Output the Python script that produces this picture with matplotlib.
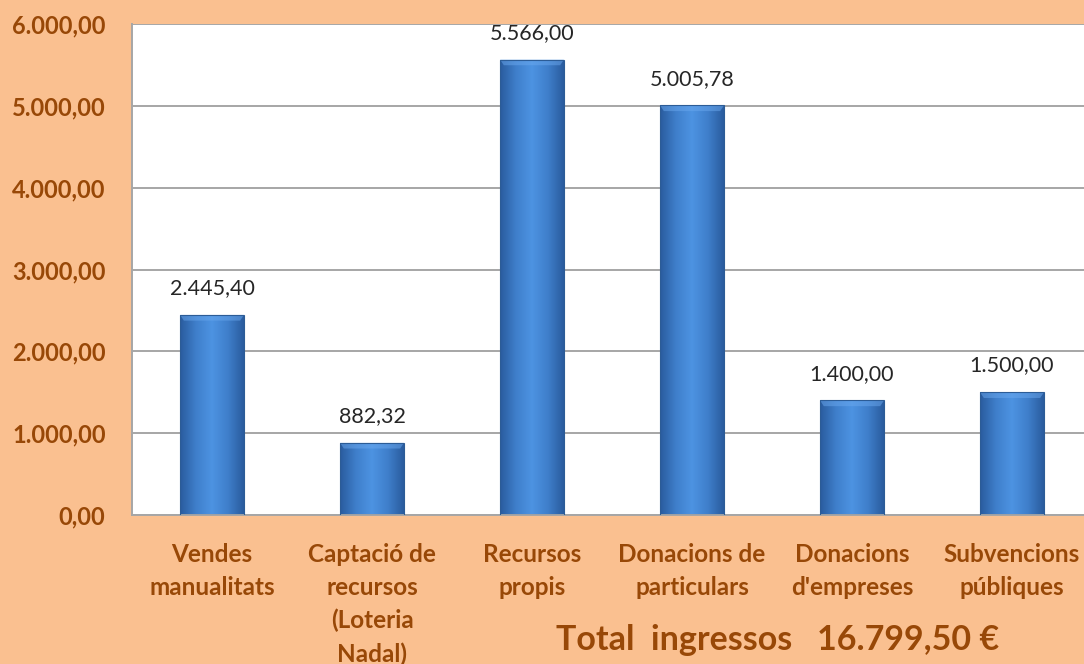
import numpy as np
import matplotlib
matplotlib.use("Agg")
import matplotlib.pyplot as plt
from matplotlib.colors import LinearSegmentedColormap

categories = ["Vendes\nmanualitats", "Captació de\nrecursos\n(Loteria\nNadal)", "Recursos\npropis",
              "Donacions de\nparticulars", "Donacions\nd'empreses", "Subvencions\npúbliques"]
values = [2445.40, 882.32, 5566.00, 5005.78, 1400.00, 1500.00]
value_labels = ["2.445,40", "882,32", "5.566,00", "5.005,78", "1.400,00", "1.500,00"]
yticks = [0, 1000, 2000, 3000, 4000, 5000, 6000]
ytick_labels = ["0,00", "1.000,00", "2.000,00", "3.000,00", "4.000,00", "5.000,00", "6.000,00"]
total_text = "Total  ingressos   16.799,50 €"

BG = "#FAC090"
BROWN = "#984807"
plt.rcParams['font.family'] = ['Lato', 'DejaVu Sans']

fig = plt.figure(figsize=(10.84, 6.64), dpi=100, facecolor=BG)
ax = fig.add_axes([132/1084, (664-515)/664, (1092-132)/1084, (515-24)/664])
ax.set_facecolor("white")

x = np.arange(len(categories))
bars = ax.bar(x, values, width=0.4, color="none", edgecolor="#2C5C96", linewidth=0.8, zorder=3)

cmap = LinearSegmentedColormap.from_list("bar", ["#2A5C9E", "#3F7FCB", "#4D93E2", "#3F7FCB", "#2A5C9E"])
nx = 200
prof = np.linspace(0, 1, nx)[None, :]
grad = np.repeat(prof, 50, axis=0)
for b in bars:
    x0, y0 = b.get_x(), b.get_y()
    w, h = b.get_width(), b.get_height()
    im = ax.imshow(grad, cmap=cmap, extent=[x0, x0 + w, y0, y0 + h], aspect="auto",
                   origin="lower", zorder=2.5, interpolation="bicubic")
    im.set_clip_path(b)
    # top bevel
    bev = 0.06 * w
    bh = 70
    ax.fill([x0, x0 + w, x0 + w - bev, x0 + bev], [y0 + h, y0 + h, y0 + h - bh, y0 + h - bh],
            color="#6AA8EE", alpha=0.5, zorder=2.7, lw=0)

for xi, v, lab in zip(x, values, value_labels):
    ax.annotate(lab, (xi, v), xytext=(0, 12), textcoords="offset points", ha="center", va="bottom",
                fontsize=15.5, color="#262626")

ax.set_xlim(-0.5, len(categories) - 0.5)
ax.set_ylim(0, 6000)
ax.set_yticks(yticks)
ax.set_yticklabels(ytick_labels, fontsize=17, fontweight="bold", color=BROWN)
ax.set_xticks(x)
ax.set_xticklabels(categories, fontsize=17.5, fontweight="bold", color=BROWN, linespacing=1.52, va="top")
ax.tick_params(axis="both", length=0)
ax.tick_params(axis="y", pad=19)
ax.tick_params(axis="x", pad=20)
ax.yaxis.grid(True, color="#A6A6A6", linewidth=1.4, zorder=0)
ax.set_axisbelow(True)
for s in ["top", "right"]:
    ax.spines[s].set_visible(False)
for s in ["left", "bottom"]:
    ax.spines[s].set_color("#A6A6A6")
    ax.spines[s].set_linewidth(1.4)

fig.text(778/1084, 1 - 640/664, total_text, ha="center", va="center", fontsize=24.5,
         fontweight="bold", color=BROWN)

fig.savefig("out.png", dpi=100, facecolor=BG)
